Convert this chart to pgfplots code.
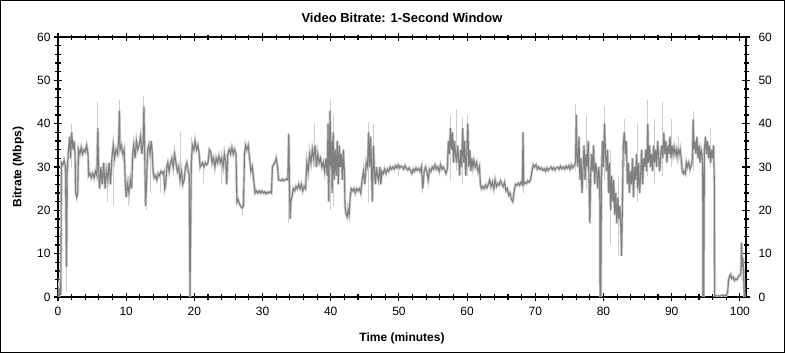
\documentclass[border=0pt]{standalone}
\usepackage{pgfplots}
\usepackage{pgfplotstable}
\pgfplotsset{compat=1.18}
\usepackage{fontspec}
\setmainfont{Liberation Sans}
\definecolor{darkg}{RGB}{128,128,128}
\definecolor{lightg}{RGB}{205,205,205}
\pgfplotstableread{
t v
0.0 0
0.1 1.5
0.2 0
0.3 2
0.4 0.5
0.5 31
0.7 30.5
0.9 31.5
1.1 30
1.25 7
1.35 29
1.5 33
1.7 37
1.85 32
2.0 38
2.2 34
2.35 36
2.5 33
2.6 24
2.75 23
2.9 24
3.0 34
3.2 33
3.4 34.5
3.6 33
3.8 34
4.0 33.5
4.2 35
4.4 33
4.5 28
4.7 28.5
4.9 27.5
5.1 28.5
5.3 27.5
5.5 29
5.7 28
5.85 39
5.95 30
6.1 25
6.3 30
6.5 26
6.7 31
6.9 25
7.1 29
7.3 27
7.5 31
7.7 26
7.9 32
8.1 35
8.3 32
8.5 34
8.7 33
8.9 36
9.0 43
9.1 34
9.3 35
9.5 33
9.7 34
9.85 27
10.0 23
10.2 26
10.4 24
10.6 27
10.8 25
10.95 33
11.1 35
11.3 32
11.5 36
11.7 34
11.9 35
12.1 37
12.3 33
12.5 36
12.6 44
12.7 34
12.85 21
13.0 27
13.15 34
13.3 35
13.5 33
13.65 36
13.8 34
13.95 29
14.1 27.5
14.3 28
14.5 27
14.7 28.5
14.9 28
15.1 29
15.3 28.5
15.5 29
15.65 25
15.8 26
15.95 30
16.1 31
16.3 29
16.5 31
16.7 32
16.9 30
17.1 33
17.3 31
17.5 29
17.7 30
17.9 27
18.1 29
18.3 26
18.5 27
18.7 30
18.9 31
19.1 29
19.25 28
19.35 0
19.45 15
19.55 31
19.7 35
19.9 34
20.1 36
20.3 34
20.5 35
20.7 33
20.85 30
21.0 30.5
21.2 31
21.4 30
21.6 31
21.8 30.5
22.0 31
22.2 34
22.4 33.5
22.6 31
22.8 32
23.0 30
23.2 32
23.4 31
23.6 32.5
23.8 31
24.0 32
24.2 30
24.4 33
24.6 31
24.75 26
24.9 33
25.1 34
25.3 33
25.5 34.5
25.7 33
25.9 34
26.1 33
26.25 22
26.4 22.5
26.6 21.5
26.8 21
27.0 20.5
27.2 21
27.35 33
27.5 35
27.7 34
27.9 35
28.1 32
28.3 29
28.5 30
28.7 27
28.9 24
29.1 24.5
29.3 24
29.5 24.5
29.7 24
29.9 24.5
30.1 24
30.3 24.3
30.5 23.8
30.7 24.2
30.9 24
31.1 24.3
31.3 24
31.45 30
31.6 30.5
31.8 31
32.0 32
32.2 30
32.35 27
32.5 27
32.7 26.8
32.9 27.2
33.1 26.8
33.3 27
33.5 27.3
33.7 27
33.85 37.5
33.95 25
34.05 18
34.15 22
34.3 23
34.5 25
34.7 24.5
34.9 25.5
35.1 25
35.3 26
35.5 25
35.7 26
35.9 24.5
36.1 25.5
36.3 25
36.5 31
36.7 29
36.9 33
37.1 31
37.3 34
37.5 32
37.7 35
37.9 30
38.1 33
38.3 31
38.5 32
38.7 30
38.9 31
39.1 29
39.3 32
39.5 28
39.6 40
39.7 22
39.8 34
39.9 43
40.0 30
40.1 36
40.2 24
40.35 38
40.5 27
40.65 34
40.8 28
40.95 36
41.1 26
41.25 35
41.4 30
41.55 33
41.7 27
41.85 34
42.0 29
42.1 21
42.25 19
42.4 18.5
42.55 20
42.7 19
42.85 23
43.0 25
43.2 24.5
43.4 25
43.6 24
43.8 25
44.0 24.5
44.2 25
44.4 24
44.6 27
44.8 29
45.0 26
45.2 31
45.4 30
45.55 38
45.7 30
45.85 37
46.0 28
46.1 22
46.25 35
46.4 29
46.55 26
46.7 30
46.85 28
47.0 27
47.2 30
47.35 26
47.5 29
47.7 28.5
47.9 29.5
48.1 28.5
48.3 29.5
48.5 29
48.7 30
48.9 29.5
49.1 30
49.3 29.5
49.5 30.3
49.7 29.8
49.9 30.5
50.1 29.8
50.3 30.2
50.5 30
50.7 29.5
50.9 30.3
51.1 29.7
51.3 29.3
51.5 29.8
51.7 29.2
51.9 28.5
52.1 29.5
52.3 29
52.5 29.8
52.7 29.2
52.9 29.6
53.1 29
53.3 30
53.5 25
53.7 29
53.9 30
54.1 29
54.3 27
54.5 29.5
54.7 29
54.9 30
55.1 29.5
55.3 30.5
55.5 29.5
55.7 30
55.9 29
56.1 30.5
56.3 29.5
56.5 30
56.7 29.3
56.9 28.5
57.1 29.5
57.25 36
57.4 33
57.55 39
57.7 34
57.85 38
58.0 31
58.15 36
58.3 33
58.45 31
58.6 35
58.75 32
58.9 28
59.05 34
59.2 30
59.35 39
59.5 31
59.65 36
59.8 28
59.95 33
60.1 40
60.25 30
60.4 34
60.55 29
60.7 32
60.85 30
61.0 31.5
61.2 30
61.4 31
61.6 29
61.8 30
61.95 26
62.1 25
62.3 25.5
62.5 25
62.7 25.8
62.9 25.2
63.1 26
63.3 27
63.5 25.5
63.7 26.5
63.9 25
64.1 27
64.3 25.5
64.5 26.2
64.7 25.8
64.9 26.8
65.1 26
65.3 25.5
65.5 26.5
65.7 24.5
65.9 25
66.1 23.5
66.3 24
66.5 22.5
66.7 22
66.9 24.5
67.1 26
67.3 25.8
67.5 26.3
67.7 25.8
67.9 26.5
68.1 26
68.2 38
68.3 26
68.5 26.5
68.7 26.2
68.9 26.8
69.1 26.5
69.3 27
69.5 29
69.7 30.5
69.9 30
70.1 30.5
70.3 29.5
70.5 30
70.7 29.5
70.9 29.8
71.1 29.2
71.3 29.6
71.5 29
71.7 29.8
71.9 29.2
72.1 29.6
72.3 30
72.5 29.4
72.7 29.9
72.9 29.3
73.1 29.8
73.3 30
73.5 29.5
73.7 30.2
73.9 29.6
74.1 30
74.3 29.5
74.5 30.2
74.7 29.7
74.9 30.3
75.1 29.5
75.3 30.5
75.5 29.8
75.7 30.3
75.9 31
76.0 42
76.1 33
76.25 30
76.4 37
76.55 27
76.7 32
76.85 24
77.0 30
77.15 35
77.3 27
77.45 33
77.6 30
77.75 36
77.9 25
78.0 17
78.1 27
78.25 33
78.4 29
78.55 35
78.7 26
78.85 31
79.0 29
79.15 25
79.3 30
79.45 27
79.5 0
79.6 0
79.7 28
79.85 36
80.0 30
80.15 40
80.3 33
80.45 29
80.6 34
80.75 24
80.9 31
81.05 20
81.2 28
81.35 22
81.5 27
81.65 19
81.8 24
81.95 17
82.1 23
82.25 18
82.4 21
82.55 16
82.65 9.5
82.75 19
82.9 35
83.05 38
83.2 33
83.35 36
83.5 26
83.65 31
83.8 24
83.95 29
84.1 26
84.25 32
84.4 23
84.55 30
84.7 27
84.85 33
85.0 25
85.15 31
85.3 24
85.45 28
85.6 34
85.75 26
85.9 32
86.05 30
86.2 34
86.35 29
86.5 40
86.6 31
86.75 35
86.9 30
87.05 33
87.2 29
87.35 35
87.5 31
87.65 34
87.8 30
87.95 36
88.1 32
88.25 29
88.4 33
88.55 35
88.7 32
88.85 38
89.0 33
89.15 36
89.3 31
89.45 35
89.6 33
89.75 37
89.9 32
90.05 35
90.2 33
90.35 34.5
90.5 33
90.65 34
90.8 32.5
90.95 34
91.1 33
91.25 34
91.4 32
91.55 29
91.7 28.5
91.85 29
92.0 28.5
92.15 31
92.3 30
92.5 31
92.7 29.5
92.9 30.5
93.05 32
93.15 41
93.25 34
93.4 36
93.55 33
93.7 37
93.85 32
94.0 35
94.15 31
94.3 34
94.45 33
94.55 30
94.6 0
94.7 0
94.8 34
94.95 37
95.1 33
95.25 36
95.4 32
95.55 35
95.7 31
95.85 34
96.0 32
96.15 35
96.25 27
96.3 0
96.5 0.3
97.0 0.2
97.5 0.4
98.0 0.3
98.2 1
98.35 4
98.5 4.8
98.65 5.2
98.8 4.3
99.0 4.6
99.2 3.8
99.4 4.2
99.6 4.0
99.8 4.8
100.0 5.0
100.15 5.5
100.25 12.5
100.35 7
100.45 9
100.55 5
100.65 0
100.8 0
}\darkdata
\pgfplotstableread{
t mid half
1.3 15.5 14.5
2.0 35 5
5.85 36.5 8.5
7.3 26.5 4.5
8.2 28.5 7.5
9.0 39.25 6.25
10.3 24.5 3.5
12.6 39.75 6.75
13.0 25 5
13.5 29.5 5.5
15.0 26.5 2.5
17.9 32 6
19.6 26 11
21.3 28.5 2.5
24.0 30 4
27.0 22 3
33.85 27.5 10.5
37.6 35 5
39.9 32.75 12.75
40.35 31.5 10.5
42.4 19.75 2.25
45.55 31.25 9.25
46.25 31.5 8.5
50.0 29.5 1.5
53.5 27.5 3.5
57.55 34.5 7.5
58.5 36.25 7.25
59.35 33.75 7.75
60.1 35 7
68.2 31 7
75.9 36.75 7.75
77.5 33.5 8.5
78.0 26.5 9.5
80.15 35.5 8.5
81.05 23 11
82.2 18.75 9.25
83.05 35.5 5.5
85.0 31 9
86.5 36.75 8.75
87.5 33.5 7.5
88.7 36.5 8.5
89.9 35.5 5.5
91.0 34 3
93.15 36 7
95.7 34.5 4.5
100.25 8.5 4.5
}\spikes
\begin{document}
\begin{tikzpicture}
\useasboundingbox (0,0) rectangle (785bp,353bp);
\draw[line width=1bp] (0.5bp,0.5bp) rectangle (784.5bp,352.5bp);
\begin{axis}[
  at={(58bp,56bp)}, anchor=south west,
  width=688bp, height=260bp, scale only axis,
  xmin=0, xmax=100.9, ymin=0, ymax=60,
  xtick={0,10,...,100}, ytick={0,10,...,60},
  minor x tick num=4, minor y tick num=4,
  tick align=center,
  major tick length=8bp, minor tick length=5bp,
  axis line style={line width=1.5bp},
  every tick/.style={black, line width=1.1bp},
  tick label style={font=\fontsize{12bp}{14bp}\selectfont},
  xticklabel style={yshift=-3bp},
  /pgf/number format/assume math mode=true,
  title={Video Bitrate: 1-Second Window},
  title style={font=\bfseries\fontsize{13bp}{15bp}\selectfont, at={(axis description cs:0.5,1.034)}, anchor=base},
  xlabel={Time (minutes)},
  xlabel style={font=\bfseries\fontsize{12bp}{14bp}\selectfont, at={(axis description cs:0.5,-0.1712)}, anchor=base},
  ylabel={Bitrate (Mbps)},
  ylabel style={font=\bfseries\fontsize{12bp}{14bp}\selectfont, at={(axis description cs:-0.0531,0.5)}, anchor=base},
]
\addplot[lightg, line width=2.6bp, mark=none, forget plot] table[x=t, y=v] {\darkdata};
\addplot[draw=none, mark=none, forget plot,
  error bars/.cd, y dir=both, y explicit,
  error bar style={lightg, line width=1bp}, error mark=none]
  table[x=t, y=mid, y error=half] {\spikes};
\addplot[darkg, line width=1.1bp, mark=none] table[x=t, y=v] {\darkdata};
\end{axis}
\begin{axis}[
  at={(58bp,56bp)}, anchor=south west,
  width=688bp, height=260bp, scale only axis,
  xmin=0, xmax=100.9, ymin=0, ymax=60,
  axis x line=none, axis y line*=right,
  y axis line style={draw=none},
  ytick={0,10,...,60}, ytick style={draw=none},
  yticklabel style={xshift=9bp},
  tick label style={font=\fontsize{12bp}{14bp}\selectfont},
  /pgf/number format/assume math mode=true,
]
\addplot[draw=none] coordinates {(0,0)};
\end{axis}
\end{tikzpicture}
\end{document}
